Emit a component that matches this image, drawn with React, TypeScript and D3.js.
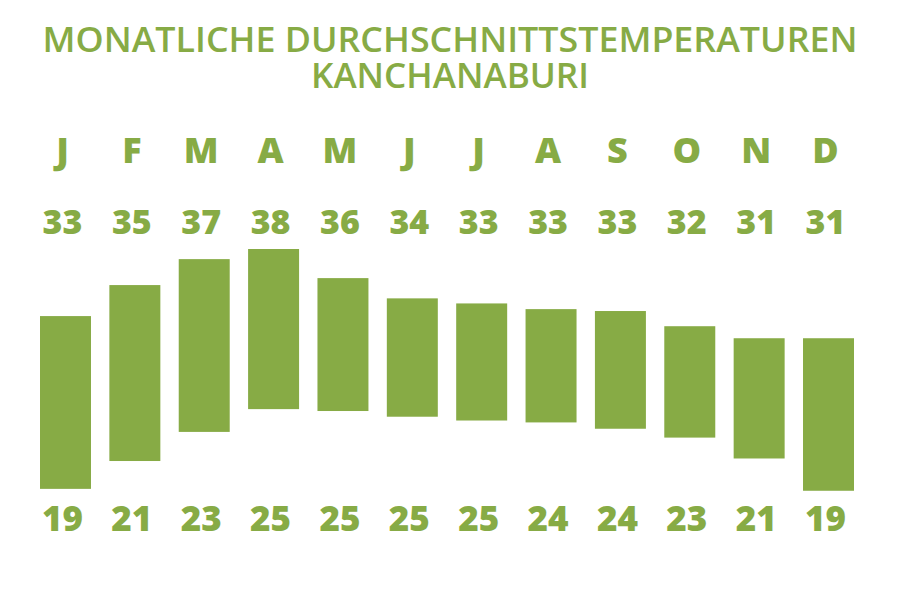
import React from "react";
import * as d3 from "d3";

const TITLE_LINE1 = "MONATLICHE DURCHSCHNITTSTEMPERATUREN";
const TITLE_LINE2 = "KANCHANABURI";
const months = ["J", "F", "M", "A", "M", "J", "J", "A", "S", "O", "N", "D"];
// bar extents as drawn (°C)
const maxTemps = [32.7, 35.15, 37.2, 38.0, 35.7, 34.1, 33.7, 33.25, 33.1, 31.9, 30.95, 30.95];
const minTemps = [19.05, 21.25, 23.55, 25.35, 25.2, 24.75, 24.45, 24.3, 23.8, 23.1, 21.45, 18.9];
// labels as printed
const maxLabels = ["33", "35", "37", "38", "36", "34", "33", "33", "33", "32", "31", "31"];
const minLabels = ["19", "21", "23", "25", "25", "25", "25", "24", "24", "23", "21", "19"];

const GREEN = "#87ab45";
const FONT = "'Open Sans', sans-serif";

export default function App() {
  const W = 900;
  const H = 600;
  const idx = months.map((_, i) => i);
  const x = d3.scaleBand<number>().domain(idx).range([40, 854]).paddingInner(0.265).paddingOuter(0);
  const y = d3.scaleLinear().domain([19, 38]).range([489.5, 249]);
  const cx = (i: number) => (x(i) as number) + x.bandwidth() / 2 - 3;

  return (
    <svg width={W} height={H} style={{ position: "absolute", left: 0, top: 0, background: "#fff" }}>
      <text textAnchor="middle" fill={GREEN} fontFamily={FONT} fontSize={35} fontWeight={600}>
        <tspan x={450} y={52} textLength={815} lengthAdjust="spacingAndGlyphs">{TITLE_LINE1}</tspan>
        <tspan x={450} y={88} textLength={278} lengthAdjust="spacingAndGlyphs">{TITLE_LINE2}</tspan>
      </text>
      {months.map((m, i) => (
        <text key={"m" + i} x={cx(i)} y={163} textAnchor="middle" fill={GREEN} fontFamily={FONT} fontSize={36} fontWeight={800}>
          {m}
        </text>
      ))}
      {maxLabels.map((t, i) => (
        <text key={"mx" + i} x={cx(i)} y={234} textAnchor="middle" fill={GREEN} fontFamily={FONT} fontSize={34} fontWeight={800}>
          {t}
        </text>
      ))}
      {idx.map((i) => (
        <rect
          key={"b" + i}
          x={x(i)}
          width={x.bandwidth()}
          y={y(maxTemps[i])}
          height={y(minTemps[i]) - y(maxTemps[i])}
          fill={GREEN}
        />
      ))}
      {minLabels.map((t, i) => (
        <text key={"mn" + i} x={cx(i)} y={531} textAnchor="middle" fill={GREEN} fontFamily={FONT} fontSize={35} fontWeight={800}>
          {t}
        </text>
      ))}
    </svg>
  );
}
